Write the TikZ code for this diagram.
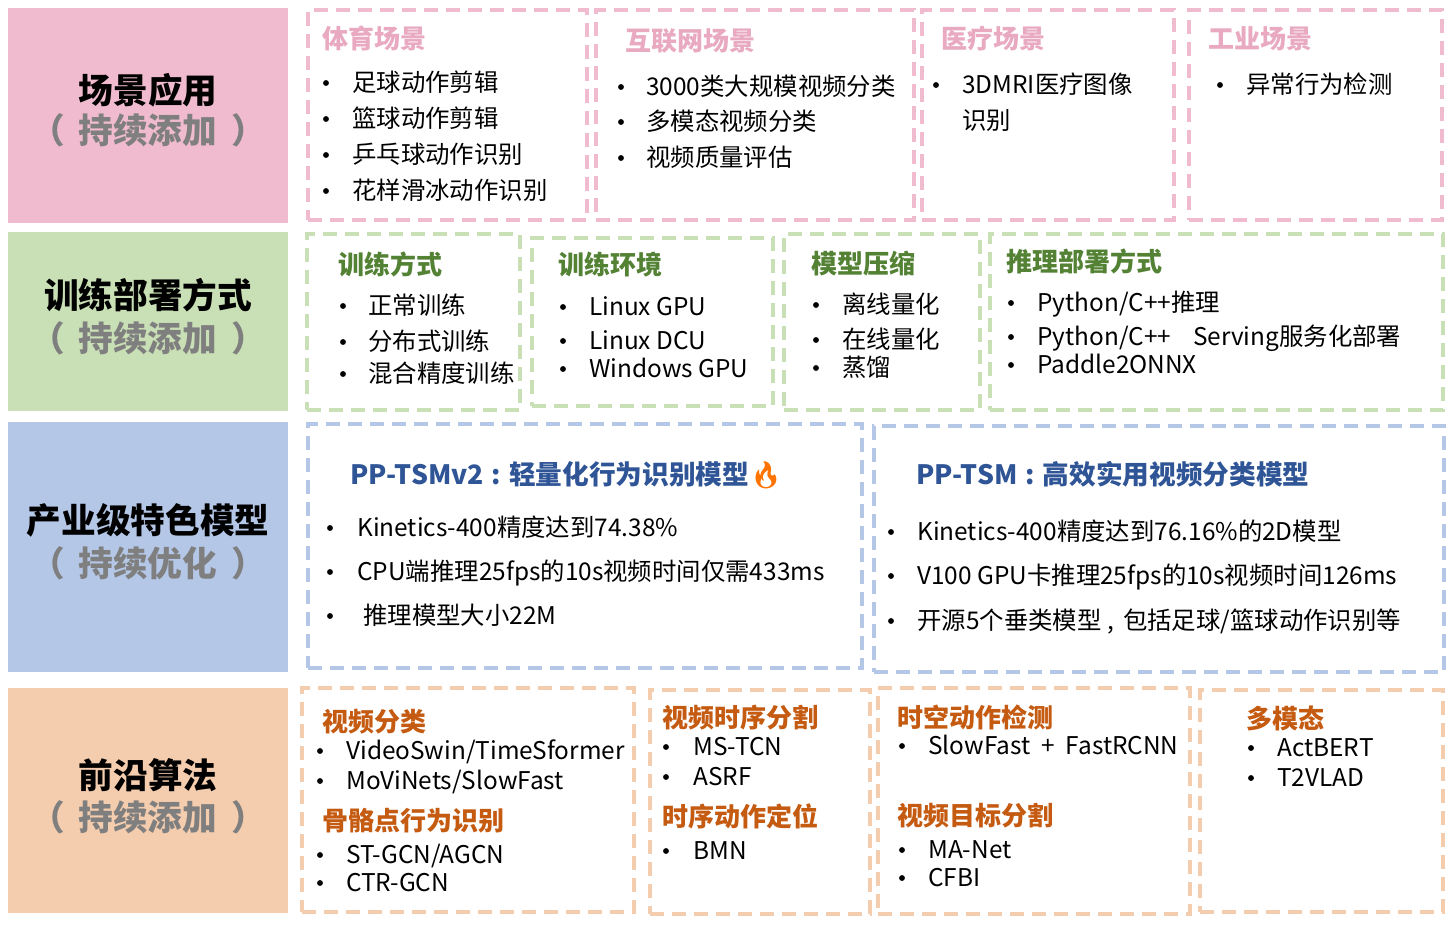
\documentclass[tikz,border=0pt]{standalone}
\usepackage{fontspec}
\setmainfont{Noto Sans CJK SC}
\newfontfamily\emojifont{Noto Emoji}
\usetikzlibrary{fit}
\definecolor{pinkfill}{HTML}{F0BBCE}
\definecolor{pinkhead}{HTML}{E8A9C1}
\definecolor{greenfill}{HTML}{C9DFB5}
\definecolor{greenhead}{HTML}{548235}
\definecolor{bluefill}{HTML}{B4C7E7}
\definecolor{bluehead}{HTML}{2F5597}
\definecolor{peachfill}{HTML}{F4CCAE}
\definecolor{peachhead}{HTML}{C55A11}
\definecolor{graytext}{HTML}{7F7F7F}
\newcommand{\bitem}[5]{%
  \node[bul] (#1b) at (#2,#4) {};
  \node[txt] (#1) at (#3,#4) {#5};}
\newcommand{\colonsep}{\hspace{0.3em}:\hspace{0.3em}}
\begin{document}
\begin{tikzpicture}[x=0.75pt,y=-0.75pt,
  blockbox/.style={inner sep=0pt,draw=none},
  dbox/.style={inner sep=0pt,line width=3pt,dash pattern=on 10.5pt off 6pt},
  txt/.style={anchor=west,inner sep=0pt,text height=1.3em,text depth=0em,font=\fontsize{18.3}{20}\selectfont,text=black},
  bul/.style={circle,fill=black,inner sep=0pt,minimum size=4.4pt},
  head/.style={anchor=west,inner sep=0pt,text height=1.3em,text depth=0em,font=\fontsize{19.5}{22}\selectfont\bfseries},
  ltitle/.style={anchor=center,inner sep=0pt,text height=1.3em,text depth=0em,font=\fontsize{26}{28}\selectfont\bfseries,text=black},
  lsub/.style={anchor=center,inner sep=0pt,text height=1.3em,text depth=0em,font=\fontsize{26}{28}\selectfont\bfseries,text=graytext}]
\useasboundingbox (0,0) rectangle (1452,926);
\fill[white] (0,0) rectangle (1452,926);
% left blocks
\node[blockbox,fill=pinkfill,fit={(8,8)(288,223)}] (L1) {};
\node[blockbox,fill=greenfill,fit={(8,232)(288,411)}] (L2) {};
\node[blockbox,fill=bluefill,fit={(8,422)(288,672)}] (L3) {};
\node[blockbox,fill=peachfill,fit={(8,688)(288,913)}] (L4) {};
\node[ltitle] (L1t) at (148,95) {场景应用};
\node[lsub] (L1s) at (148,135) {（\hspace{0.4em}持续添加\hspace{0.4em}）};
\node[ltitle] (L2t) at (148,300) {训练部署方式};
\node[lsub] (L2s) at (148,343) {（\hspace{0.4em}持续添加\hspace{0.4em}）};
\node[ltitle] (L3t) at (148,525) {产业级特色模型};
\node[lsub] (L3s) at (148,568) {（\hspace{0.4em}持续优化\hspace{0.4em}）};
\node[ltitle] (L4t) at (148,780) {前沿算法};
\node[lsub] (L4s) at (148,822) {（\hspace{0.4em}持续添加\hspace{0.4em}）};
% row 1
\node[dbox,draw=pinkfill,fit={(308,10)(587,220)}] (R1a) {};
\node[dbox,draw=pinkfill,fit={(596,10)(914,220)}] (R1b) {};
\node[dbox,draw=pinkfill,fit={(922,10)(1174,220)}] (R1c) {};
\node[dbox,draw=pinkfill,fit={(1189,10)(1442,220)}] (R1d) {};
\node[head,text=pinkhead] (h11) at (322,40) {体育场景};
\bitem{i111}{326}{352}{83}{足球动作剪辑}
\bitem{i112}{326}{352}{119}{篮球动作剪辑}
\bitem{i113}{326}{352}{155}{乒乓球动作识别}
\bitem{i114}{326}{352}{191}{花样滑冰动作识别}
\node[head,text=pinkhead] (h12) at (625,42) {互联网场景};
\bitem{i121}{621}{646}{87}{3000类大规模视频分类}
\bitem{i122}{621}{646}{122}{多模态视频分类}
\bitem{i123}{621}{646}{158}{视频质量评估}
\node[head,text=pinkhead] (h13) at (941,40) {医疗场景};
\bitem{i131}{936}{962}{85}{3DMRI医疗图像}
\node[txt] (i132) at (962,121) {识别};
\node[head,text=pinkhead] (h14) at (1208,40) {工业场景};
\bitem{i141}{1220}{1246}{85}{异常行为检测}
% row 2
\node[dbox,draw=greenfill,fit={(307,234)(520,410)}] (R2a) {};
\node[dbox,draw=greenfill,fit={(532,238)(773,406)}] (R2b) {};
\node[dbox,draw=greenfill,fit={(784,234)(980,410)}] (R2c) {};
\node[dbox,draw=greenfill,fit={(990,234)(1443,410)}] (R2d) {};
\node[head,text=greenhead] (h21) at (338,266) {训练方式};
\bitem{i211}{343}{368}{306}{正常训练}
\bitem{i212}{343}{368}{342}{分布式训练}
\bitem{i213}{343}{368}{374}{混合精度训练}
\node[head,text=greenhead] (h22) at (558,266) {训练环境};
\bitem{i221}{563}{589}{307}{Linux GPU}
\bitem{i222}{563}{589}{341}{Linux DCU}
\bitem{i223}{563}{589}{369}{Windows GPU}
\node[head,text=greenhead] (h23) at (811,265) {模型压缩};
\bitem{i231}{816}{842}{305}{离线量化}
\bitem{i232}{816}{842}{340}{在线量化}
\bitem{i233}{816}{842}{368}{蒸馏}
\node[head,text=greenhead] (h24) at (1006,263) {推理部署方式};
\bitem{i241}{1011}{1037}{303}{Python/C++推理}
\bitem{i242}{1011}{1037}{337}{Python/C++\hspace{0.9em}Serving服务化部署}
\bitem{i243}{1011}{1037}{365}{Paddle2ONNX}
% row 3
\node[dbox,draw=bluefill,fit={(308,424)(862,668)}] (R3a) {};
\node[dbox,draw=bluefill,fit={(874,426)(1444,672)}] (R3b) {};
\node[head,text=bluehead,font=\fontsize{20}{22}\selectfont\bfseries] (h31) at (350,476) {PP-TSMv2\colonsep 轻量化行为识别模型{\emojifont\color{orange!90!red}🔥}};
\bitem{i311}{330}{357}{528}{Kinetics-400精度达到74.38\%}
\bitem{i312}{330}{357}{572}{CPU端推理25fps的10s视频时间仅需433ms}
\bitem{i313}{330}{363}{616}{推理模型大小22M}
\node[head,text=bluehead,font=\fontsize{20}{22}\selectfont\bfseries] (h32) at (916,476) {PP-TSM\colonsep 高效实用视频分类模型};
\bitem{i321}{891}{917}{532}{Kinetics-400精度达到76.16\%的2D模型}
\bitem{i322}{891}{917}{576}{V100 GPU卡推理25fps的10s视频时间126ms}
\bitem{i323}{891}{917}{621}{开源5个垂类模型\hspace{0.25em},\hspace{0.35em}包括足球/篮球动作识别等}
% row 4
\node[dbox,draw=peachfill,fit={(302,688)(634,912)}] (R4a) {};
\node[dbox,draw=peachfill,fit={(650,690)(870,914)}] (R4b) {};
\node[dbox,draw=peachfill,fit={(878,688)(1190,914)}] (R4c) {};
\node[dbox,draw=peachfill,fit={(1200,690)(1443,912)}] (R4d) {};
\node[head,text=peachhead] (h41) at (322,723) {视频分类};
\bitem{i411}{320}{346}{751}{VideoSwin/TimeSformer}
\bitem{i412}{320}{346}{781}{MoViNets/SlowFast}
\node[head,text=peachhead] (h42) at (322,822) {骨骼点行为识别};
\bitem{i421}{320}{346}{855}{ST-GCN/AGCN}
\bitem{i422}{320}{346}{883}{CTR-GCN}
\node[head,text=peachhead] (h43) at (662,719) {视频时序分割};
\bitem{i431}{666}{693}{747}{MS-TCN}
\bitem{i432}{666}{693}{777}{ASRF}
\node[head,text=peachhead] (h44) at (662,818) {时序动作定位};
\bitem{i441}{666}{693}{851}{BMN}
\node[head,text=peachhead] (h45) at (897,719) {时空动作检测};
\bitem{i451}{902}{928}{746}{SlowFast\hspace{0.45em}+\hspace{0.45em}FastRCNN}
\node[head,text=peachhead] (h46) at (897,817) {视频目标分割};
\bitem{i461}{902}{928}{850}{MA-Net}
\bitem{i462}{902}{928}{878}{CFBI}
\node[head,text=peachhead] (h47) at (1246,720) {多模态};
\bitem{i471}{1251}{1277}{748}{ActBERT}
\bitem{i472}{1251}{1277}{778}{T2VLAD}
\end{tikzpicture}
\end{document}
